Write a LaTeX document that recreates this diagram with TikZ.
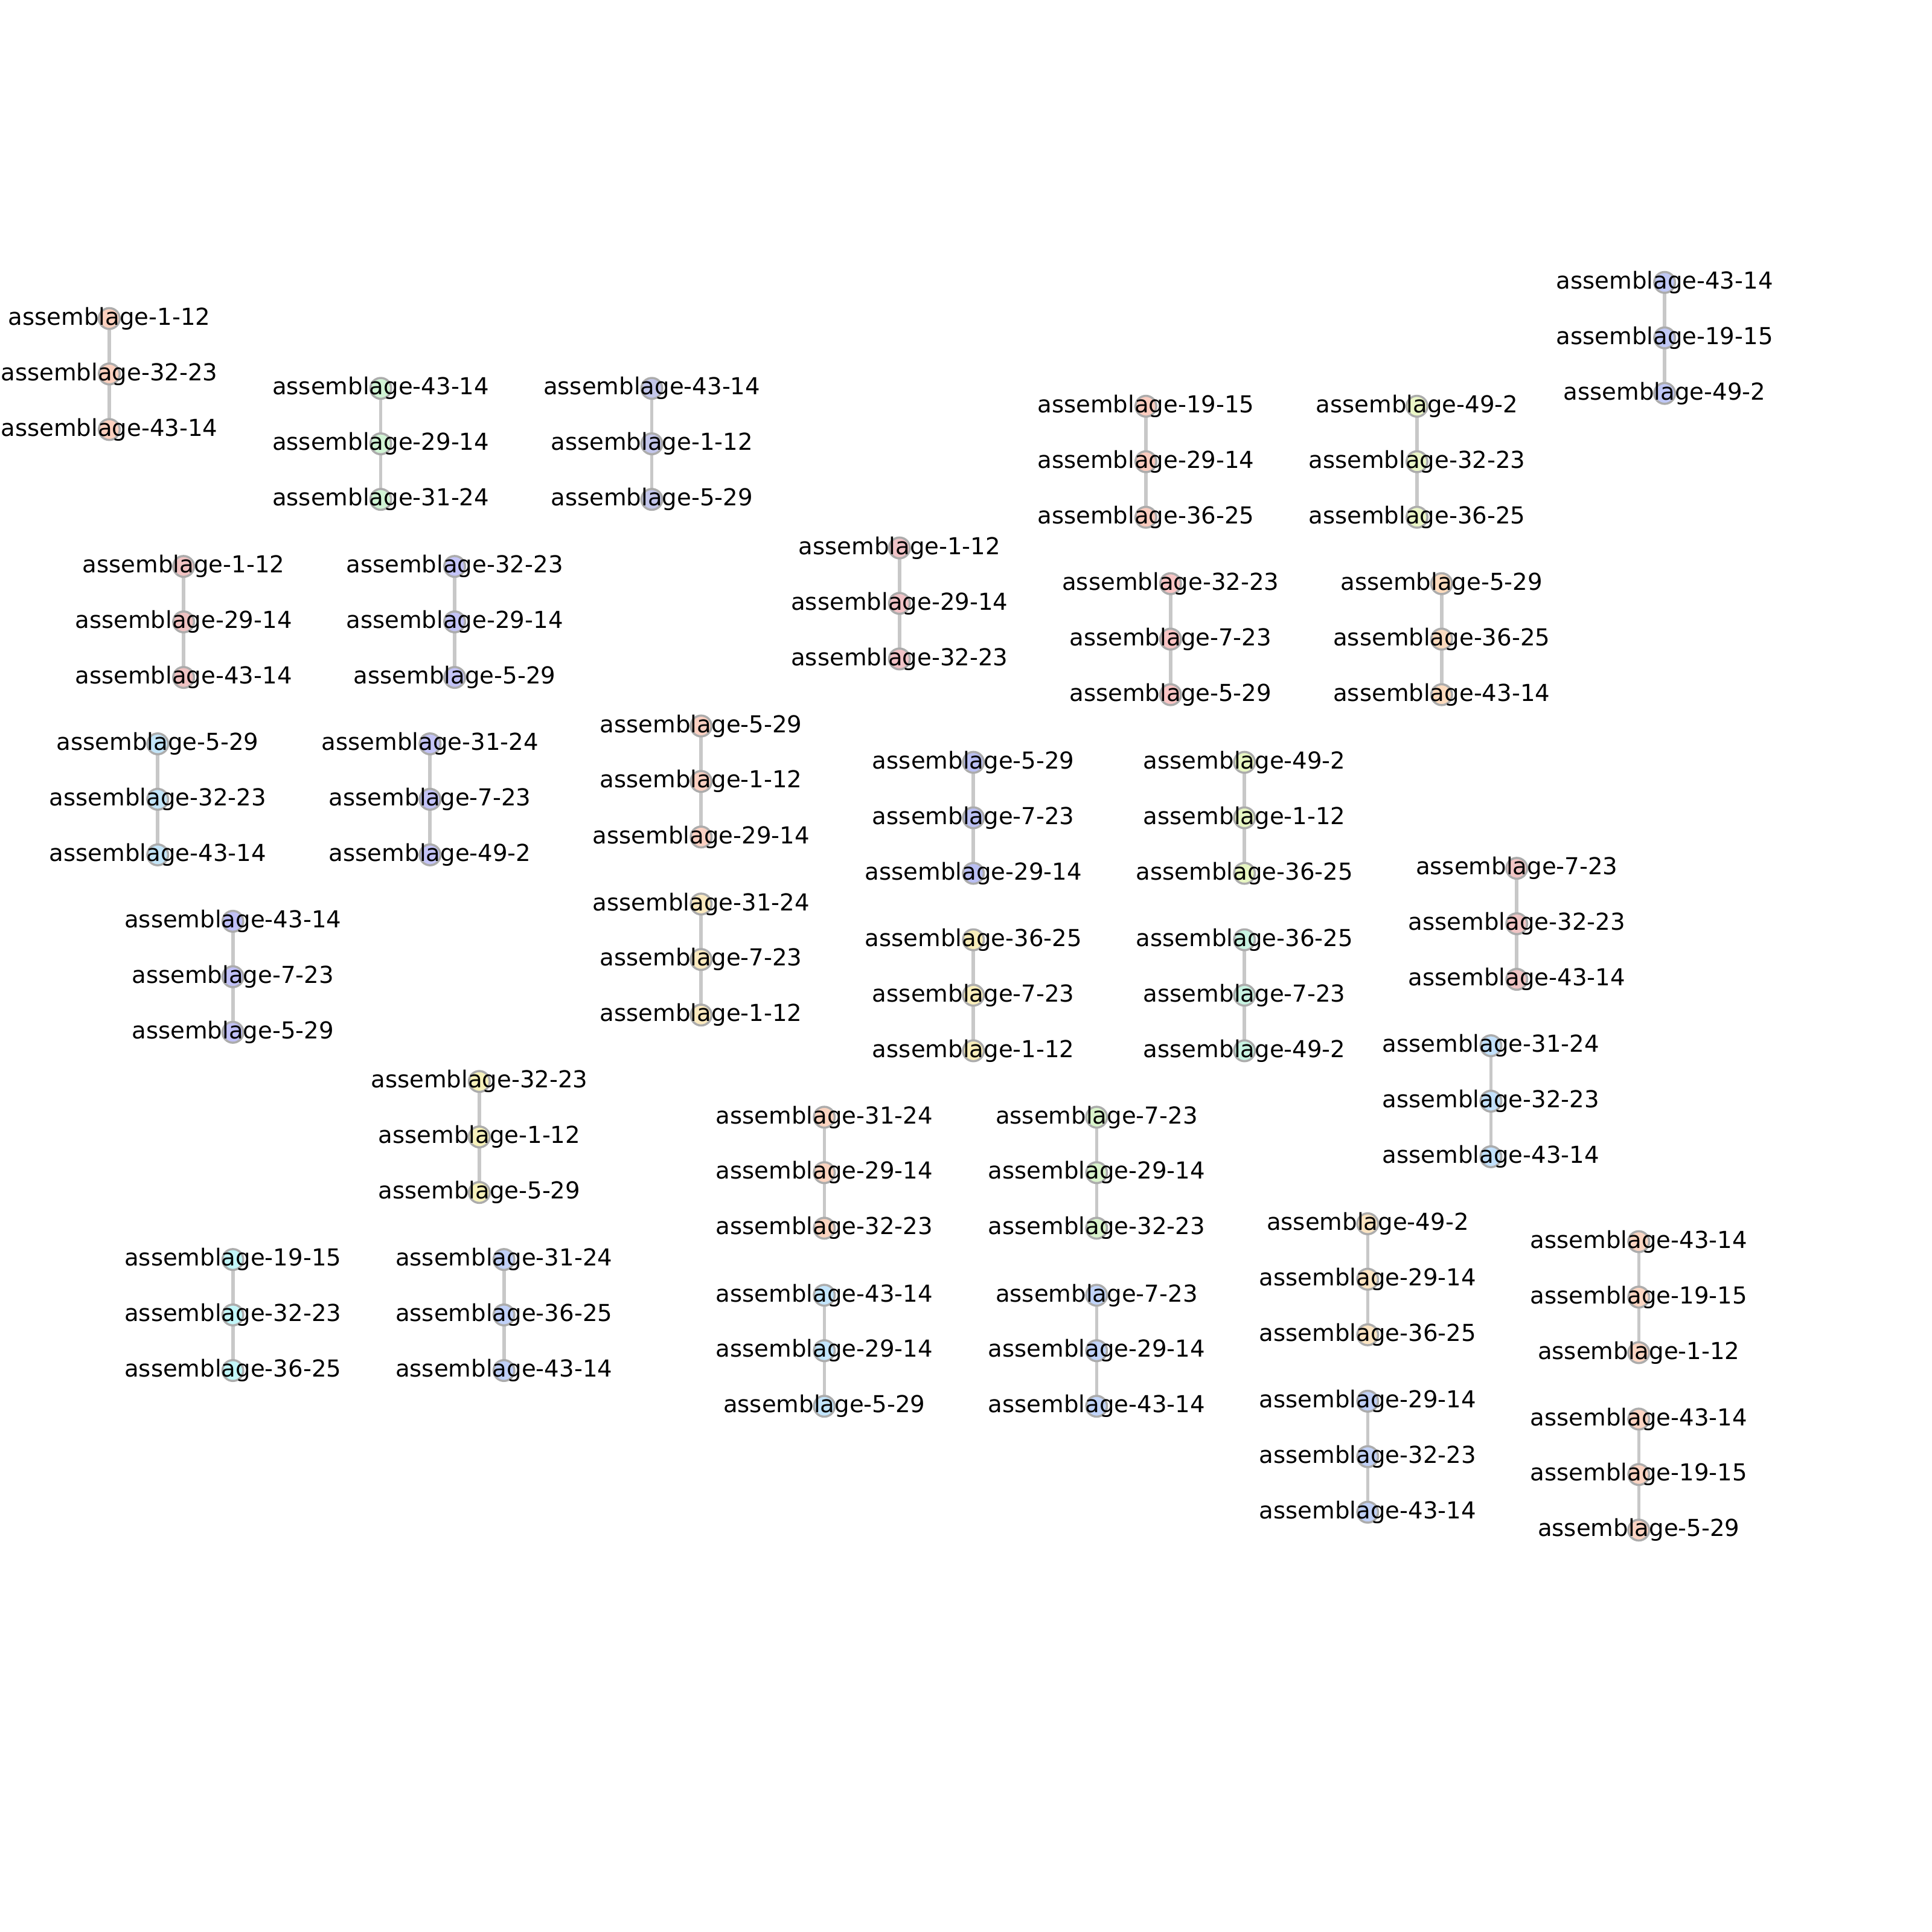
\documentclass[tikz,border=0pt]{standalone}
\usepackage{fontspec}
\setmainfont{DejaVu Sans}
\usetikzlibrary{backgrounds}
\definecolor{edgegray}{HTML}{C8C8C8}
\definecolor{ringgray}{HTML}{ACACAC}
\definecolor{cA}{HTML}{FCD0BE}
\definecolor{cB}{HTML}{D0F3D4}
\definecolor{cC}{HTML}{C3C6EA}
\definecolor{cD}{HTML}{C0C8F6}
\definecolor{cE}{HTML}{FACBBE}
\definecolor{cF}{HTML}{EAF6C6}
\definecolor{cG}{HTML}{F0C2C2}
\definecolor{cH}{HTML}{C3C3F6}
\definecolor{cI}{HTML}{F0C2C6}
\definecolor{cJ}{HTML}{F8C4C4}
\definecolor{cK}{HTML}{FCDBBE}
\definecolor{cL}{HTML}{C2E4F8}
\definecolor{cM}{HTML}{C3C3F6}
\definecolor{cN}{HTML}{FAD0C2}
\definecolor{cO}{HTML}{BABFF3}
\definecolor{cP}{HTML}{E7F6C2}
\definecolor{cQ}{HTML}{F0C4C4}
\definecolor{cR}{HTML}{C0C0F6}
\definecolor{cS}{HTML}{FAE9BF}
\definecolor{cT}{HTML}{F8EDBA}
\definecolor{cU}{HTML}{C8F3E1}
\definecolor{cV}{HTML}{C2E0FB}
\definecolor{cW}{HTML}{F6F1BA}
\definecolor{cX}{HTML}{FBD3BF}
\definecolor{cY}{HTML}{D8F3CA}
\definecolor{cZ}{HTML}{FBE4C2}
\definecolor{ca}{HTML}{FAD5C2}
\definecolor{cb}{HTML}{C2F6F8}
\definecolor{cc}{HTML}{C0D0F8}
\definecolor{cd}{HTML}{C2E4FB}
\definecolor{ce}{HTML}{C0D3F8}
\definecolor{cf}{HTML}{C0D0F6}
\definecolor{cg}{HTML}{FBD3C2}
\tikzset{
  nd/.style={circle, draw=ringgray, line width=1pt, minimum size=0.345cm, inner sep=0pt},
  lbl/.style={inner sep=0pt, text=black, font=\fontsize{11}{13}\selectfont},
  edge/.style={draw=edgegray, line width=1.6pt}
}
\newcommand\grp[7]{%
  \node[nd, fill=#4, label={[lbl]center:assemblage-#5}] (#1a) at (#2,#3+1.2) {};
  \node[nd, fill=#4, label={[lbl]center:assemblage-#6}] (#1b) at (#2,#3+46.2) {};
  \node[nd, fill=#4, label={[lbl]center:assemblage-#7}] (#1c) at (#2,#3+91.3) {};
  \begin{scope}[on background layer]
    \draw[edge] (#1a.center) -- (#1b.center) -- (#1c.center);
  \end{scope}
}
\begin{document}
\begin{tikzpicture}[x=0.020408cm, y=-0.020408cm]
\useasboundingbox (0,0) rectangle (1568,1568);
\grp{ga}{88.7}{257.3}{cA}{1-12}{32-23}{43-14}
\grp{gb}{309}{314}{cB}{43-14}{29-14}{31-24}
\grp{gc}{529}{314}{cC}{43-14}{1-12}{5-29}
\grp{gd}{1351}{228}{cD}{43-14}{19-15}{49-2}
\grp{ge}{930}{328.5}{cE}{19-15}{29-14}{36-25}
\grp{gf}{1150}{328.5}{cF}{49-2}{32-23}{36-25}
\grp{gg}{149}{458.5}{cG}{1-12}{29-14}{43-14}
\grp{gh}{369}{458.5}{cH}{32-23}{29-14}{5-29}
\grp{gi}{730}{443.5}{cI}{1-12}{29-14}{32-23}
\grp{gj}{950}{472.5}{cJ}{32-23}{7-23}{5-29}
\grp{gk}{1170}{472.5}{cK}{5-29}{36-25}{43-14}
\grp{gl}{128}{602.5}{cL}{5-29}{32-23}{43-14}
\grp{gm}{349}{602.5}{cM}{31-24}{7-23}{49-2}
\grp{gn}{569}{588}{cN}{5-29}{1-12}{29-14}
\grp{go}{790}{617.5}{cO}{5-29}{7-23}{29-14}
\grp{gp}{1010}{617.5}{cP}{49-2}{1-12}{36-25}
\grp{gq}{1231}{703.5}{cQ}{7-23}{32-23}{43-14}
\grp{gr}{189}{746.5}{cR}{43-14}{7-23}{5-29}
\grp{gs}{569}{732.5}{cS}{31-24}{7-23}{1-12}
\grp{gt}{790}{761.5}{cT}{36-25}{7-23}{1-12}
\grp{gu}{1010}{761.5}{cU}{36-25}{7-23}{49-2}
\grp{gv}{1210}{847.5}{cV}{31-24}{32-23}{43-14}
\grp{gw}{389}{876.5}{cW}{32-23}{1-12}{5-29}
\grp{gx}{669}{905.5}{cX}{31-24}{29-14}{32-23}
\grp{gy}{890}{905.5}{cY}{7-23}{29-14}{32-23}
\grp{gz}{1110}{992}{cZ}{49-2}{29-14}{36-25}
\grp{hA}{1330}{1006.5}{ca}{43-14}{19-15}{1-12}
\grp{hB}{189}{1021}{cb}{19-15}{32-23}{36-25}
\grp{hC}{409}{1021}{cc}{31-24}{36-25}{43-14}
\grp{hD}{669}{1050}{cd}{43-14}{29-14}{5-29}
\grp{hE}{890}{1050}{ce}{7-23}{29-14}{43-14}
\grp{hF}{1110}{1136}{cf}{29-14}{32-23}{43-14}
\grp{hG}{1330}{1150.5}{cg}{43-14}{19-15}{5-29}
\end{tikzpicture}
\end{document}
